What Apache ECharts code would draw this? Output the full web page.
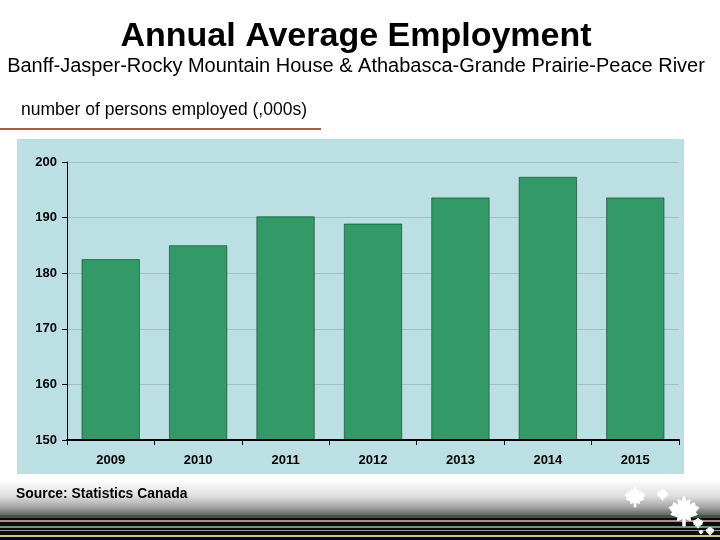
<!DOCTYPE html>
<html>
<head>
<meta charset="UTF-8">
<script src="https://cdn.jsdelivr.net/npm/echarts@6/dist/echarts.min.js"></script>
<style>
  html, body { margin: 0; padding: 0; background: #fff; }
  #main { width: 720px; height: 540px; }
</style>
</head>
<body>
<div id="main"></div>
<script>
var years = ['2009', '2010', '2011', '2012', '2013', '2014', '2015'];
var employed = [182.5, 185, 190.2, 188.9, 193.6, 197.3, 193.6];
var yTicks = [150, 160, 170, 180, 190, 200];

var font = '"Liberation Sans", Arial, sans-serif';
// maple leaf outline on a 0-100 box
var leaf = [[50,0],[58,18],[70,12],[68,32],[84,22],[88,34],[100,38],[88,54],[94,62],[70,70],[72,82],[54,76],[54,100],[46,100],[46,76],[28,82],[30,70],[6,62],[12,54],[0,38],[12,34],[16,22],[32,32],[30,12],[42,18]];

// footer stripes: [y, height, colour]
var stripes = [
  [515, 25, '#0a0d0b'],
  [515, 3, '#3f5348'],
  [520, 2, '#b28c8a'],
  [526, 2, '#76907e'],
  [530, 1, '#8c9c92'],
  [535, 2, '#c9c98f']
];

function leafAt(x, y, size) {
  return {
    type: 'polygon', z: 3,
    shape: { points: leaf.map(function (p) { return [x + p[0] * size / 100, y + p[1] * size / 100]; }) },
    style: { fill: '#fff', stroke: '#fff', lineWidth: 1 }
  };
}

var graphics = [
  { type: 'rect', z: -10, shape: { x: 17, y: 139, width: 667, height: 335 }, style: { fill: '#bbdfe3' } },
  { type: 'rect', z: -10, shape: { x: 0, y: 128, width: 321, height: 2 }, style: { fill: '#a85a4e' } },
  {
    type: 'rect', z: -10, shape: { x: 0, y: 480, width: 720, height: 36 },
    style: {
      fill: new echarts.graphic.LinearGradient(0, 0, 0, 1, [
        { offset: 0, color: '#ffffff' },
        { offset: 0.45, color: '#dedede' },
        { offset: 0.75, color: '#a6a6a6' },
        { offset: 1, color: '#5a5f5c' }
      ])
    }
  }
];
stripes.forEach(function (s) {
  graphics.push({ type: 'rect', z: 1, shape: { x: 0, y: s[0], width: 720, height: s[1] }, style: { fill: s[2] } });
});
graphics.push(leafAt(625, 487, 20), leafAt(657, 489, 11), leafAt(669, 496, 30),
  leafAt(693, 518, 10), leafAt(706, 527, 8), leafAt(699, 530, 4));

var chart = echarts.init(document.getElementById('main'));
chart.setOption({
  animation: false,
  title: [
    { text: 'Annual Average Employment', left: 356, top: 20, textAlign: 'center', padding: 0,
      textStyle: { fontFamily: font, fontSize: 34, fontWeight: 'bold', color: '#000' } },
    { text: 'Banff-Jasper-Rocky Mountain House & Athabasca-Grande Prairie-Peace River', left: 356, top: 56, textAlign: 'center', padding: 0,
      textStyle: { fontFamily: font, fontSize: 20, fontWeight: 'normal', color: '#000' } },
    { text: 'number of persons employed (,000s)', left: 21, top: 101, padding: 0,
      textStyle: { fontFamily: font, fontSize: 17.5, fontWeight: 'normal', color: '#000' } },
    { text: 'Source: Statistics Canada', left: 16, top: 487, padding: 0,
      textStyle: { fontFamily: font, fontSize: 13.9, fontWeight: 'bold', color: '#000' } }
  ],
  grid: { left: 67, right: 41, top: 162, bottom: 100 },
  xAxis: {
    type: 'category',
    data: years,
    z: 5,
    axisLine: { lineStyle: { color: '#000', width: 2 } },
    axisTick: { show: true, alignWithLabel: false, length: 5, lineStyle: { color: '#000' } },
    axisLabel: { fontFamily: font, fontSize: 13, fontWeight: 'bold', color: '#000', margin: 14 }
  },
  yAxis: {
    type: 'value',
    min: yTicks[0],
    max: yTicks[yTicks.length - 1],
    interval: 10,
    axisLine: { show: true, lineStyle: { color: '#000', width: 1 } },
    axisTick: { show: true, length: 5, lineStyle: { color: '#000' } },
    axisLabel: { fontFamily: font, fontSize: 13, fontWeight: 'bold', color: '#000', margin: 10 },
    splitLine: { show: true, lineStyle: { color: '#a3bfc2', width: 1 } }
  },
  series: [{
    type: 'bar',
    data: employed,
    barWidth: 58,
    itemStyle: { color: '#339966', borderColor: '#0c3a26', borderWidth: 0.6 }
  }],
  graphic: graphics
});
</script>
</body>
</html>
